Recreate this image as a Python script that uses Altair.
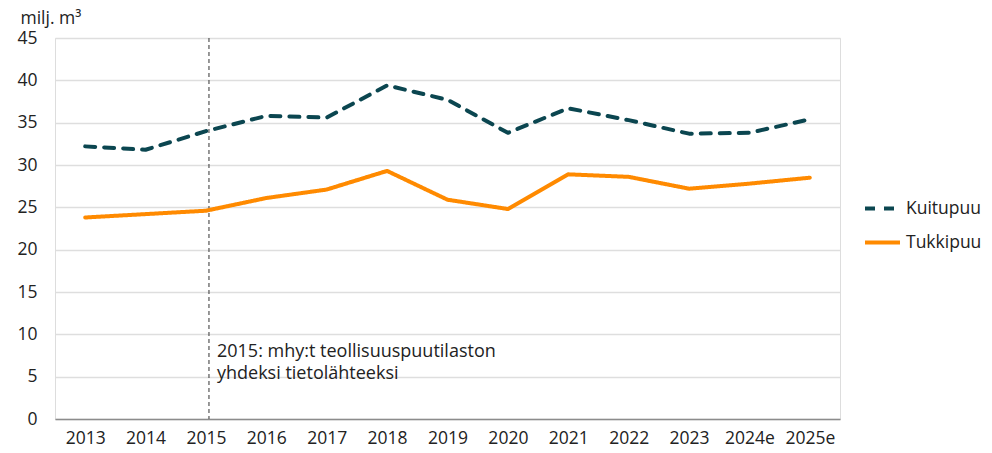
import altair as alt
import pandas as pd

years = ["2013", "2014", "2015", "2016", "2017", "2018", "2019", "2020",
         "2021", "2022", "2023", "2024e", "2025e"]
kuitupuu = [32.2, 31.8, 34.0, 35.8, 35.6, 39.4, 37.7, 33.8, 36.7, 35.3, 33.7, 33.8, 35.4]
tukkipuu = [23.8, 24.2, 24.6, 26.1, 27.1, 29.3, 25.9, 24.8, 28.9, 28.6, 27.2, 27.8, 28.5]
series = ["Kuitupuu", "Tukkipuu"]
colors = ["#0b4650", "#ff8a00"]
dashes = [[10, 9], [1, 0]]
note_year = "2015"
note_text = ["2015: mhy:t teollisuuspuutilaston", "yhdeksi tietolähteeksi"]
note_y = 9.0

rows = []
for s, vals in zip(series, [kuitupuu, tukkipuu]):
    for y, v in zip(years, vals):
        rows.append({"vuosi": y, "arvo": v, "sarja": s})
df = pd.DataFrame(rows)

FONT = "Open Sans"
FS = 17.5
xscale = alt.Scale(type="point", domain=years, padding=0.5)
yscale = alt.Scale(domain=[0, 45])

lines = alt.Chart(df).mark_line(strokeWidth=4, strokeCap="round", strokeJoin="round").encode(
    x=alt.X("vuosi:N", scale=xscale, sort=years,
            axis=alt.Axis(title=None, labelAngle=0, labelAlign="center", ticks=False,
                          domain=True, domainColor="#8c8c8c", domainWidth=1.5,
                          labelPadding=19, labelFontSize=FS, labelFont=FONT,
                          labelColor="#222", grid=False)),
    y=alt.Y("arvo:Q", scale=yscale,
            axis=alt.Axis(title="milj. m³", titleAngle=0, titleX=-35, titleY=-20,
                          titleAlign="left", titleBaseline="middle", titleFont=FONT,
                          titleFontSize=FS, titleFontWeight="normal", titleColor="#222",
                          values=list(range(0, 50, 5)), ticks=False, domain=False,
                          labelPadding=18, labelFontSize=FS, labelFont=FONT,
                          labelColor="#222", gridColor="#dedede", gridWidth=1.3)),
    color=alt.Color("sarja:N", scale=alt.Scale(domain=series, range=colors),
                    legend=alt.Legend(title=None, orient="none", legendX=808, legendY=151,
                                      symbolType="stroke", symbolSize=1225,
                                      symbolStrokeWidth=4, labelFont=FONT,
                                      labelFontSize=FS, labelColor="#222",
                                      rowPadding=6, labelOffset=4)),
    strokeDash=alt.StrokeDash("sarja:N", scale=alt.Scale(domain=series, range=dashes),
                              legend=None),
)

rule = alt.Chart(pd.DataFrame({"vuosi": [note_year]})).mark_rule(
    color="#555", strokeDash=[4, 3], strokeWidth=1.2, xOffset=3).encode(
    x=alt.X("vuosi:N", scale=xscale, sort=years))

note = alt.Chart(pd.DataFrame({"vuosi": [note_year], "arvo": [note_y],
                               "teksti": [note_text]})).mark_text(
    align="left", baseline="top", dx=11, font=FONT, fontSize=18, color="#222",
    lineHeight=22).encode(
    x=alt.X("vuosi:N", scale=xscale, sort=years),
    y=alt.Y("arvo:Q", scale=yscale),
    text="teksti")

chart = alt.layer(rule, lines, note).properties(
    width=785, height=381,
    autosize=alt.AutoSizeParams(type="none"),
    padding={"left": 47, "top": 30, "right": 144, "bottom": 34},
).configure_view(strokeWidth=0).configure(background="white")

chart.save("out.html", embed_options={"renderer": "svg", "actions": False})
